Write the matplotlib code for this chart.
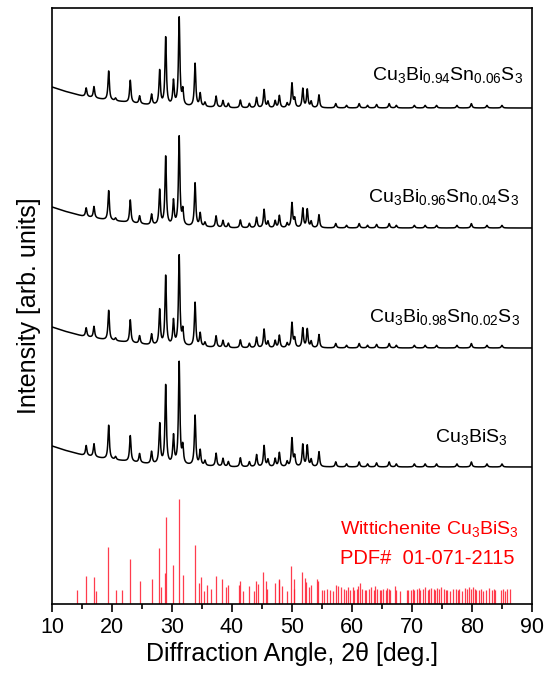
import numpy as np
import matplotlib.pyplot as plt

plt.rcParams['font.family'] = ['Liberation Sans', 'DejaVu Sans']
plt.rcParams['mathtext.default'] = 'regular'

# reference pattern, Wittichenite Cu3BiS3 (PDF# 01-071-2115)
ref_pos = [14.2, 15.7, 17.0, 17.4, 19.4, 20.6, 21.6, 23.0, 24.6, 26.6, 27.9, 28.1, 28.8, 29.0,
           30.2, 31.2, 31.8, 33.8, 34.5, 34.8, 35.3, 35.9, 36.5, 37.3, 38.4, 39.0, 39.4, 41.2,
           41.3, 41.9, 42.9, 43.6, 44.0, 44.3, 45.2, 45.6, 45.9, 47.2, 47.8, 47.9, 48.4, 49.1,
           49.9, 50.3, 50.4, 51.7, 52.2, 52.4, 52.8, 53.1, 54.2, 54.4, 55.0, 55.4, 55.9, 56.3,
           56.8, 57.3, 57.7, 58.2, 58.6, 59.0, 59.4, 59.7, 60.1, 60.4, 60.8, 61.0, 61.3, 61.7,
           62.1, 62.4, 62.8, 63.1, 63.6, 63.9, 64.2, 64.6, 64.9, 65.2, 65.6, 65.9, 66.1, 66.4,
           67.2, 67.4, 68.0, 69.1, 69.4, 69.8, 70.1, 70.4, 70.8, 71.1, 71.4, 71.8, 72.1, 72.6,
           72.8, 73.2, 73.6, 73.8, 74.2, 74.5, 74.8, 75.3, 75.6, 75.9, 76.3, 76.9, 77.3, 77.6,
           77.9, 78.3, 78.9, 79.2, 79.5, 79.8, 80.2, 80.5, 80.7, 81.2, 81.5, 81.9, 82.3, 82.9,
           83.3, 83.6, 83.9, 84.8, 85.2, 85.5, 85.9, 86.3]
ref_int = [14, 28, 27, 13, 57, 14, 14, 45, 23, 25, 56, 17, 31, 87,
           39, 105, 29, 59, 21, 27, 13, 19, 15, 28, 25, 17, 19, 19,
           23, 13, 18, 13, 23, 20, 32, 23, 15, 21, 25, 24, 18, 13,
           38, 25, 15, 32, 26, 22, 17, 19, 25, 23, 14, 14, 15, 14,
           13, 19, 18, 17, 15, 14, 17, 14, 17, 14, 15, 18, 21, 15,
           14, 14, 15, 17, 14, 18, 15, 14, 14, 15, 14, 16, 15, 14,
           18, 14, 13, 14, 14, 14, 15, 14, 15, 16, 14, 15, 17, 14,
           15, 16, 15, 14, 16, 15, 17, 15, 14, 14, 13, 15, 15, 14,
           15, 13, 16, 15, 17, 15, 17, 15, 14, 14, 15, 13, 14, 16,
           14, 15, 14, 14, 15, 13, 15, 15]

peak_pos = [15.7, 17.0, 19.45, 20.6, 23.05, 24.6, 26.6, 27.95, 28.95, 30.25, 31.2, 31.8,
            33.85, 34.7, 35.5, 37.35, 38.5, 39.4, 41.4, 42.9, 44.1, 45.35, 46.0, 47.2,
            47.9, 49.2, 50.0, 50.45, 51.8, 52.55, 53.2, 54.5, 57.3, 59.1, 61.2, 62.6,
            64.1, 66.2, 67.4, 70.4, 72.2, 74.1, 77.5, 79.9, 82.5, 85.0]
peak_int = [10, 13, 34, 3, 26, 9, 12, 40, 79, 28, 102, 17,
            50, 15, 5, 13, 8, 5, 9, 5, 12, 21, 7, 8,
            14, 5, 28, 10, 22, 21, 7, 15, 5, 3, 5, 3,
            4, 5, 3, 3, 3, 3, 3, 5, 3, 3]
bg_pos = [10, 12, 15, 19, 22, 26, 32, 40, 90]
bg_lvl = [21, 17, 12, 8, 6, 3, 1.5, 0, 0]

samples = [r'Cu$_3$BiS$_3$', r'Cu$_3$Bi$_{0.98}$Sn$_{0.02}$S$_3$',
           r'Cu$_3$Bi$_{0.96}$Sn$_{0.04}$S$_3$', r'Cu$_3$Bi$_{0.94}$Sn$_{0.06}$S$_3$']
offsets = [137, 256, 376, 496]
scales = [1.0, 0.88, 0.87, 0.86]
label_x = [86.0, 88.0, 87.8, 88.5]
label_y = [162, 282, 402, 524]

fig = plt.figure(figsize=(5.5, 6.83), dpi=100)
ax = fig.add_axes([0.0945, 0.1157, 0.8727, 0.8726])

tt = np.linspace(10, 90, 4001)
w = 0.14
profile = np.zeros_like(tt)
for p, h in zip(peak_pos, peak_int):
    profile += h / (1 + ((tt - p) / w) ** 2)
bg = np.interp(tt, bg_pos, bg_lvl)

for i in range(len(samples)):
    ax.plot(tt, offsets[i] + bg + scales[i] * profile, color='black', lw=1.1)
    ax.text(label_x[i], label_y[i], samples[i], ha='right', va='baseline', fontsize=14)

ax.vlines(ref_pos, 0, ref_int, color='#ff1a2e', lw=0.9, alpha=0.85)
ax.text(58.0, 70, r'Wittichenite Cu$_3$BiS$_3$', color='#ff0000', fontsize=14, va='baseline')
ax.text(58.0, 40, 'PDF#  01-071-2115', color='#ff0000', fontsize=14.5, va='baseline')

ax.set_xlim(10, 90)
ax.set_ylim(0, 596)
ax.set_xticks(range(10, 91, 10))
ax.set_xticks(range(15, 90, 10), minor=True)
ax.set_yticks([])
ax.tick_params(axis='x', which='major', direction='out', length=6, width=1.2, labelsize=15.5)
ax.tick_params(axis='x', which='minor', direction='out', length=3.5, width=1.2)
for s in ax.spines.values():
    s.set_linewidth(1.2)

ax.set_xlabel('Diffraction Angle, 2θ [deg.]', fontsize=18, labelpad=3)
ax.set_ylabel('Intensity [arb. units]', fontsize=18, labelpad=8)

fig.savefig('out.png', dpi=100)
